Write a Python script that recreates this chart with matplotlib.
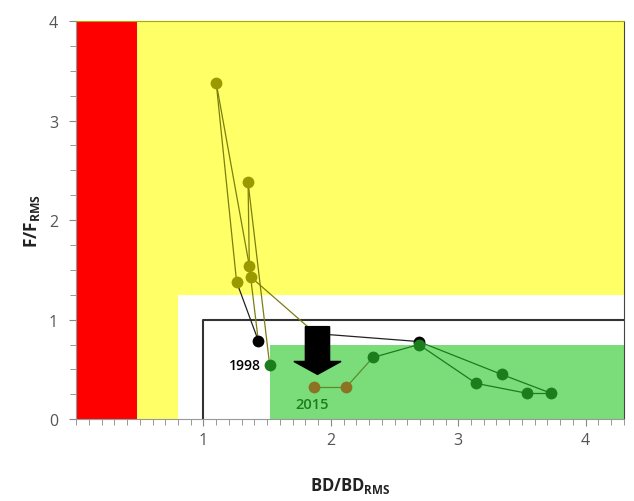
import matplotlib
matplotlib.use("Agg")
import matplotlib.pyplot as plt
from matplotlib.patches import Rectangle, Polygon
from matplotlib.ticker import MultipleLocator

plt.rcParams["font.family"] = ["Open Sans", "DejaVu Sans"]
plt.rcParams["mathtext.fontset"] = "custom"
plt.rcParams["mathtext.rm"] = "Open Sans"
plt.rcParams["mathtext.bf"] = "Open Sans:bold"

# trajectory 1998 -> 2015 (BD/BD_RMS, F/F_RMS), one colour per point
bd = [1.52, 1.35, 1.36, 1.10, 1.26, 1.43, 1.37, 1.88, 2.69, 3.34, 3.73, 3.54, 3.14, 2.69, 2.33, 2.12, 1.87]
ff = [0.54, 2.38, 1.54, 3.38, 1.38, 0.79, 1.43, 0.86, 0.78, 0.45, 0.26, 0.26, 0.36, 0.75, 0.62, 0.32, 0.32]
kind = ["g", "o", "o", "o", "o", "k", "o", "o", "k", "g", "g", "g", "g", "g", "g", "b", "b"]
colors = {"g": "#1c7d1c", "o": "#9a9a00", "k": "#000000", "b": "#8c7324"}
line_colors = {"g": "#1f7a1f", "o": "#7d7d10", "k": "#222222", "b": "#5f8a2a"}

# zones
XMAX, YMAX = 4.3, 4.0
RED_X = 0.48
WHITE_X, WHITE_Y = 0.80, 1.25
GREEN_X, GREEN_Y = 1.52, 0.75
REF = 1.0

fig = plt.figure(figsize=(6.34, 5.02), dpi=100)
ax = fig.add_axes([0.12, 0.163, 0.864, 0.793])
ax.set_xlim(0, XMAX)
ax.set_ylim(0, YMAX)
ax.set_facecolor("#ffff66")

ax.add_patch(Rectangle((0, 0), RED_X, YMAX, color="#ff0000", lw=0, zorder=1))
ax.add_patch(Rectangle((WHITE_X, 0), XMAX - WHITE_X, WHITE_Y, color="white", lw=0, zorder=1))
ax.add_patch(Rectangle((GREEN_X, 0), XMAX - GREEN_X, GREEN_Y, color="#7add7a", lw=0, zorder=1))
ax.plot([REF, REF, XMAX], [0, REF, REF], color="#333333", lw=1.5, zorder=2)

# segments take the colour of the point they run into
for i in range(1, len(bd)):
    ax.plot(bd[i - 1:i + 1], ff[i - 1:i + 1], color=line_colors[kind[i]], lw=0.9, zorder=3)
for x, y, k in zip(bd, ff, kind):
    ax.plot(x, y, "o", ms=8.5, color=colors[k], mec="none", zorder=4)

# big "improvement" arrow
ax_x, ax_top, ax_neck, ax_tip = 1.895, 0.93, 0.58, 0.45
bw, hw = 0.095, 0.185
ax.add_patch(Polygon([(ax_x - bw, ax_top), (ax_x + bw, ax_top), (ax_x + bw, ax_neck),
                      (ax_x + hw, ax_neck), (ax_x, ax_tip), (ax_x - hw, ax_neck),
                      (ax_x - bw, ax_neck)], closed=True, color="black", zorder=5))

ax.text(bd[0] - 0.07, ff[0], "1998", ha="right", va="center", fontsize=10,
        color="black", fontweight="semibold", zorder=6)
ax.text(bd[-1] - 0.02, ff[-1] - 0.17, "2015", ha="center", va="center", fontsize=10.5,
        color="#1c7d1c", fontweight="semibold", zorder=6)

ax.set_xticks([1, 2, 3, 4])
ax.set_yticks([0, 1, 2, 3, 4])
ax.xaxis.set_minor_locator(MultipleLocator(0.1))
ax.yaxis.set_minor_locator(MultipleLocator(0.25))
ax.tick_params(which="both", direction="out", colors="#888888", labelcolor="#555555",
               labelsize=11.5)
ax.tick_params(which="major", length=5)
ax.tick_params(which="minor", length=4)
ax.tick_params(axis="x", pad=4)
ax.tick_params(axis="y", pad=8)
for s in ["left", "bottom"]:
    ax.spines[s].set_color("#999999")
ax.spines["right"].set_color("#444444")
ax.spines["top"].set_color("#a8a800")

ax.set_xlabel("BD/BD$_{\\mathbf{RMS}}$", fontsize=12, fontweight="bold", color="#222222",
              labelpad=20)
ax.set_ylabel("F/F$_{\\mathbf{RMS}}$", fontsize=12.5, fontweight="bold", color="#222222",
              labelpad=5)

fig.savefig("out.png", dpi=100)
